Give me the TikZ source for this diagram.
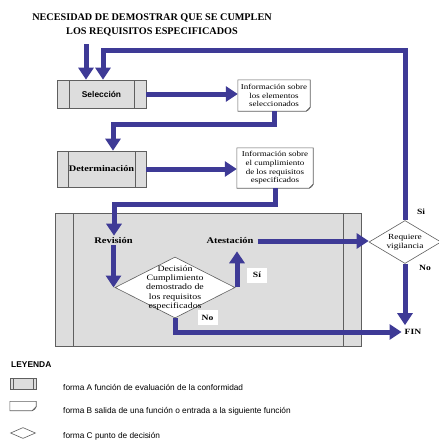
\documentclass[tikz,border=0pt]{standalone}
\usepackage{fontspec}
\setmainfont{Liberation Serif}[FakeStretch=1.2]
\newfontfamily\titlefont{Liberation Serif}
\setsansfont{Liberation Sans}
\usetikzlibrary{arrows.meta,shapes.geometric,calc}
\definecolor{arrblue}{RGB}{62,58,150}
\definecolor{boxgray}{RGB}{221,221,221}
\definecolor{edgegray}{RGB}{95,95,95}
\tikzset{
  arr/.style={draw=arrblue, line width=5pt, -{Triangle[width=15pt,length=12pt]}},
  funcbox/.style={draw=edgegray, fill=boxgray, line width=0.7pt, inner sep=0pt,
    path picture={\draw[edgegray, line width=0.7pt]
      ([xshift=#1]path picture bounding box.north west) -- ([xshift=#1]path picture bounding box.south west)
      ([xshift=-#1]path picture bounding box.north east) -- ([xshift=-#1]path picture bounding box.south east);}},
  boldlbl/.style={font=\bfseries\fontsize{8.7}{10}\selectfont, inner sep=1pt},
  infobox/.style={fill=white, inner sep=0pt, align=center, font=\fontsize{7.5}{8.6}\selectfont},
  decbox/.style={shape=diamond, draw=edgegray, fill=white, inner sep=0pt, line width=0.6pt},
  wlab/.style={fill=white, font=\bfseries\fontsize{8}{9}\selectfont, inner sep=0pt, minimum width=20pt, minimum height=15pt},
  plab/.style={font=\bfseries\fontsize{8}{9}\selectfont, inner sep=1pt},
  legtxt/.style={anchor=west, font=\sffamily\fontsize{8.3}{10}\selectfont, inner sep=0pt},
  fold/.style={draw=edgegray, line width=0.6pt}
}
\newcommand\foldedge[1]{%
  \draw[fold] (#1.north west) -- (#1.north east) -- ([yshift=4pt]#1.south east)
    -- ([xshift=-4pt]#1.south east) -- (#1.south west) -- cycle;
  \draw[fold] ([yshift=4pt]#1.south east) -- ([xshift=-1.5pt,yshift=1.5pt]#1.south east) -- ([xshift=-4pt]#1.south east);}
\begin{document}
\begin{tikzpicture}[x=1pt,y=-1pt]
\useasboundingbox (0,0) rectangle (439,442);

% title
\node[font=\titlefont\bfseries\fontsize{10.2}{14}\selectfont, align=center] (title) at (152,25)
  {NECESIDAD DE DEMOSTRAR QUE SE CUMPLEN\\LOS REQUISITOS ESPECIFICADOS};

% function boxes
\node[funcbox=12pt, minimum width=89pt, minimum height=28pt,
      font=\sffamily\bfseries\fontsize{8.4}{9}\selectfont] (sel) at (101.5,94) {Selección};
\node[funcbox=11pt, minimum width=89pt, minimum height=36pt,
      font=\bfseries\fontsize{8.6}{9}\selectfont] (det) at (101.5,169) {Determinación};
\node[funcbox=18pt, minimum width=306pt, minimum height=133pt] (big) at (208,279.5) {};

% output boxes
\node[infobox, minimum width=72pt, minimum height=31pt] (info1) at (274,95.5)
  {Información sobre\\los elementos\\seleccionados};
\foldedge{info1}
\node[infobox, minimum width=76pt, minimum height=40pt] (info2) at (275,168)
  {Información sobre\\el cumplimiento\\de los requisitos\\especificados};
\foldedge{info2}

% inside big box
\node[boldlbl] (rev) at (113.5,241) {Revisión};
\node[boldlbl] (ates) at (230,241) {Atestación};
\node[decbox, minimum width=120pt, minimum height=61pt] (dec) at (175,287.5) {};
\node[align=center, inner sep=0pt, font=\fontsize{8.2}{9.1}\selectfont] (dectxt) at (175,288)
  {Decisión\\Cumplimiento\\demostrado de\\los requisitos\\especificados};

% right side
\node[decbox, minimum width=72pt, minimum height=43pt] (req) at (405,242) {};
\node[align=center, inner sep=0pt, font=\fontsize{7.8}{9.3}\selectfont] (reqtxt) at (405,242)
  {Requiere\\vigilancia};
\node[plab] (fin) at (413,332) {FIN};

% connectors
\coordinate (t1) at (86,44);
\draw[arr] (t1) -- (t1 |- sel.north);
\coordinate (loop) at (103,50);
\draw[arr] (req.north) |- (loop) -- (loop |- sel.north);
\draw[arr] (sel.east) -- (sel.east -| info1.west);
\coordinate (c1) at (113,124);
\draw[arr] (info1.south) |- (c1) -- (c1 |- det.north);
\draw[arr] (det.east) -- (det.east -| info2.west);
\coordinate (c2) at (114,204);
\draw[arr] (info2.south) |- (c2) -- ([yshift=1pt]c2 |- rev.north);
\draw[arr] (rev.south) -- (rev.south |- dec.west);
\coordinate (c3) at (237,287);
\draw[arr] (c3) -- ([yshift=-6pt]c3 |- ates.south);
\draw[arr] (dec.south) |- ([xshift=-2pt]fin.west);
\draw[arr] ([xshift=3pt]ates.east) -- (ates.east -| req.west);
\draw[arr] (req.south) -- ([yshift=3pt]req.south |- fin.north);

% labels
\node[wlab] (si1) at (257,275) {Sí};
\node[wlab] (no1) at (207.5,317.5) {No};
\node[plab] (si2) at (421,212) {Si};
\node[plab] (no2) at (425,268) {No};

% legend
\node[anchor=west, font=\sffamily\bfseries\fontsize{8.4}{10}\selectfont, inner sep=0pt] (ley) at (11,365) {LEYENDA};
\node[funcbox=3pt, minimum width=26pt, minimum height=11pt] (legA) at (23,384) {};
\node[legtxt] (legAt) at (63,387) {forma A función de evaluación de la conformidad};
\node[fill=white, inner sep=0pt, minimum width=26pt, minimum height=9pt] (legB) at (23,406) {};
\foldedge{legB}
\node[legtxt] (legBt) at (63,411) {forma B salida de una función o entrada a la siguiente función};
\node[decbox, minimum width=25pt, minimum height=11pt] (legC) at (23,433) {};
\node[legtxt] (legCt) at (63,436) {forma C punto de decisión};
\end{tikzpicture}
\end{document}
